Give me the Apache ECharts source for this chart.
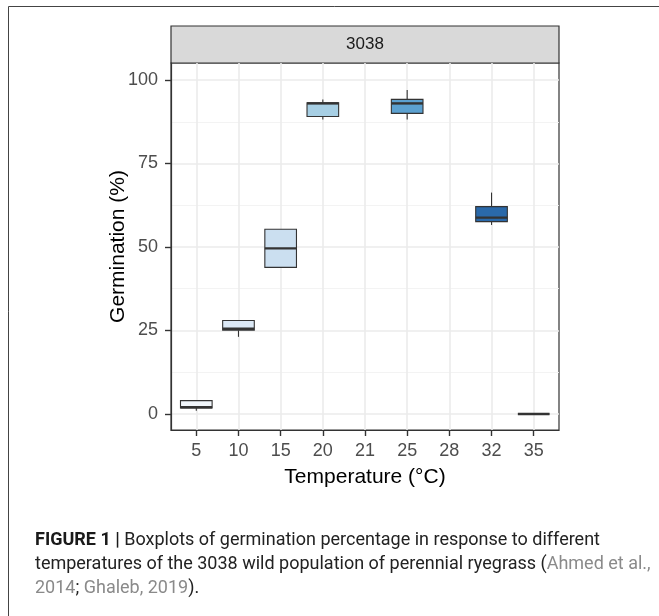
<!DOCTYPE html>
<html>
<head>
<meta charset="utf-8">
<script src="https://cdn.jsdelivr.net/npm/echarts@6/dist/echarts.min.js"></script>
<style>
html,body{margin:0;padding:0;background:#fff;}
#chart{width:659px;height:616px;}
</style>
</head>
<body>
<div id="chart"></div>
<script>
// ---- data ----
const temperatures = ['5', '10', '15', '20', '21', '25', '28', '32', '35'];
const whiskerLow  = [1.0, 23.1, 43.9, 88.2, null, 88.2, null, 56.6, 0];
const quartile1   = [1.8, 25.1, 43.9, 89.1, null, 90.0, null, 57.6, 0];
const medians     = [2.0, 25.5, 49.6, 93.0, null, 93.0, null, 58.8, 0];
const quartile3   = [4.0, 28.0, 55.3, 93.2, null, 94.2, null, 62.1, 0];
const whiskerHigh = [4.0, 28.0, 55.3, 94.2, null, 97.0, null, 66.3, 0];
const yTicks = [0, 25, 50, 75, 100];
const yMinorTicks = [12.5, 37.5, 62.5, 87.5];
const panelLabel = '3038';

// ---- styles ----
const fills = ['#f1f6fb', '#dbe8f5', '#cbdff0', '#a7cfe4', '#78b6da', '#5ca1d0', '#3b82bd', '#2a69aa', '#0e3a73'];
const FONT = 'Liberation Sans, Arial, sans-serif';

const boxData = [];
temperatures.forEach((t, i) => {
  if (medians[i] !== null) {
    boxData.push([i, whiskerLow[i], quartile1[i], medians[i], quartile3[i], whiskerHigh[i]]);
  }
});

const chart = echarts.init(document.getElementById('chart'), null, {renderer: 'canvas'});

const option = {
  animation: false,
  backgroundColor: '#fff',
  grid: {
    left: 171, right: 100, top: 63, bottom: 186,
    show: true, borderColor: '#333', borderWidth: 1.2, backgroundColor: 'transparent'
  },
  xAxis: {
    type: 'value', min: -0.6, max: 8.6,
    axisLine: {show: true, onZero: false, lineStyle: {color: '#333', width: 1.2}},
    axisTick: {show: true, inside: false, length: 6, customValues: temperatures.map((_, i) => i), lineStyle: {color: '#333', width: 1.4}},
    axisLabel: {
      customValues: temperatures.map((_, i) => i),
      formatter: v => temperatures[Math.round(v)],
      color: '#4d4d4d', fontSize: 18, fontFamily: FONT, margin: 12
    },
    splitLine: {show: true, lineStyle: {color: '#ebebeb', width: 1.6}},
    name: 'Temperature (°C)', nameLocation: 'middle', nameGap: 37, nameMoveOverlap: false,
    nameTextStyle: {fontSize: 21, color: '#000', fontFamily: FONT}
  },
  yAxis: [{
    type: 'value', min: -4.8, max: 105.1,
    axisLine: {show: true, onZero: false, lineStyle: {color: '#333', width: 1.2}},
    axisTick: {show: true, inside: false, length: 6, customValues: yTicks, lineStyle: {color: '#333', width: 1.4}},
    axisLabel: {
      customValues: yTicks,
      color: '#4d4d4d', fontSize: 18, fontFamily: FONT, margin: 13
    },
    splitLine: {show: true, lineStyle: {color: '#ebebeb', width: 1.6}},
    name: 'Germination (%)', nameLocation: 'middle', nameGap: 53, nameMoveOverlap: false,
    nameTextStyle: {fontSize: 21, color: '#000', fontFamily: FONT, verticalAlign: 'middle'}
  }, {
    type: 'value', min: -4.8, max: 105.1, position: 'right',
    axisLine: {show: false, onZero: false},
    axisTick: {show: false, customValues: yMinorTicks},
    axisLabel: {show: false, customValues: yMinorTicks},
    splitLine: {show: true, lineStyle: {color: '#f2f2f2', width: 0.9}}
  }],
  series: [{
    type: 'custom',
    yAxisIndex: 0,
    data: boxData,
    encode: {x: 0, y: [1, 2, 3, 4, 5]},
    z: 5,
    renderItem: function (params, api) {
      const x = api.value(0);
      const lo = api.coord([x, api.value(1)]);
      const q1 = api.coord([x, api.value(2)]);
      const md = api.coord([x, api.value(3)]);
      const q3 = api.coord([x, api.value(4)]);
      const hi = api.coord([x, api.value(5)]);
      const w = api.size([0.75, 0])[0];
      const cx = lo[0];
      const stroke = '#333';
      return {
        type: 'group',
        children: [
          {type: 'line', shape: {x1: cx, y1: hi[1], x2: cx, y2: q3[1]}, style: {stroke: stroke, lineWidth: 1.1}},
          {type: 'line', shape: {x1: cx, y1: q1[1], x2: cx, y2: lo[1]}, style: {stroke: stroke, lineWidth: 1.1}},
          {type: 'rect', shape: {x: cx - w / 2, y: q3[1], width: w, height: q1[1] - q3[1]},
            style: {fill: fills[x], stroke: stroke, lineWidth: 1.1}},
          {type: 'line', shape: {x1: cx - w / 2, y1: md[1], x2: cx + w / 2, y2: md[1]}, style: {stroke: stroke, lineWidth: 2.4}}
        ]
      };
    }
  }],
  graphic: [
    {type: 'rect', shape: {x: 8.5, y: 6.5, width: 700, height: 700}, style: {fill: 'none', stroke: '#444', lineWidth: 1}, silent: true, z: 0},
    {type: 'rect', shape: {x: 171, y: 26, width: 388, height: 37}, style: {fill: '#d9d9d9', stroke: '#333', lineWidth: 1.2}, silent: true},
    {type: 'text', x: 365, y: 44.5, style: {text: panelLabel, fill: '#1a1a1a', fontSize: 17, fontFamily: FONT, align: 'center', verticalAlign: 'middle'}},
    {type: 'text', x: 35, y: 528, style: {
      text: '{b|FIGURE 1 |} {n|Boxplots of germination percentage in response to different}\n' +
            '{n|temperatures of the 3038 wild population of perennial ryegrass (}{g|Ahmed et al.,}\n' +
            '{g|2014}{n|; }{g|Ghaleb, 2019}{n|).}',
      fontSize: 18, fontFamily: 'Roboto, sans-serif', lineHeight: 24, fill: '#222',
      rich: {
        b: {fontWeight: 'bold', fill: '#1a1a1a', fontSize: 18, lineHeight: 24, fontFamily: 'Roboto, sans-serif'},
        n: {fill: '#222', fontSize: 18, lineHeight: 24, fontFamily: 'Roboto, sans-serif'},
        g: {fill: '#8a8a8a', fontSize: 18, lineHeight: 24, fontFamily: 'Roboto, sans-serif'}
      }
    }}
  ]
};
chart.setOption(option);
</script>
</body>
</html>
